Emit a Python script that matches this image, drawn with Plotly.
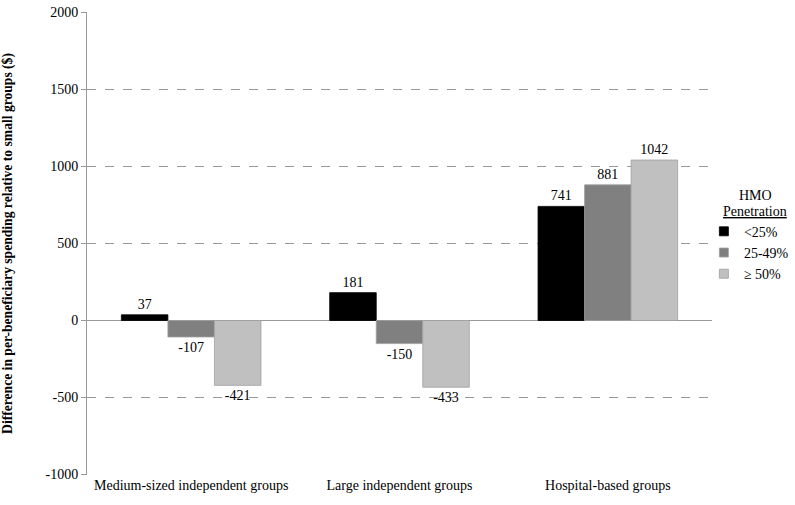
import plotly.graph_objects as go

categories = ["Medium-sized independent groups", "Large independent groups", "Hospital-based groups"]
series_names = ["<25%", "25-49%", "\u2265 50%"]
low = [37, 181, 741]
mid = [-107, -150, 881]
high = [-421, -433, 1042]
colors = ["#000000", "#808080", "#c0c0c0"]
y_ticks = [-1000, -500, 0, 500, 1000, 1500, 2000]
legend_title_lines = ["HMO", "<u>Penetration</u>"]

FONT = "Liberation Serif"

fig = go.Figure()
for name, vals, col in zip(series_names, [low, mid, high], colors):
    fig.add_trace(go.Bar(
        x=categories, y=vals, name=name, showlegend=False,
        marker=dict(color=col, line=dict(color="#a0a0a0" if col != "#000000" else "#000000", width=0.8)),
        text=[str(v) for v in vals], textposition="outside",
        textfont=dict(family=FONT, size=14, color="#000000"),
        cliponaxis=False,
    ))
# legend entries with small square swatches
for name, col in zip(series_names, colors):
    fig.add_trace(go.Scatter(
        x=[None], y=[None], mode="markers", name=name,
        marker=dict(symbol="square", size=9, color=col,
                    line=dict(color="#a0a0a0" if col != "#000000" else "#000000", width=0.8)),
    ))

annots = []
for i, line in enumerate(legend_title_lines):
    annots.append(dict(
        text=line, x=1.069, y=0.603 - i * 0.033, xref="paper", yref="paper",
        xanchor="center", yanchor="middle", showarrow=False,
        font=dict(family=FONT, size=14), align="center",
    ))

fig.update_layout(
    width=795, height=505,
    margin=dict(l=87, r=83, t=12, b=30, autoexpand=False),
    paper_bgcolor="white", plot_bgcolor="white",
    barmode="group", bargap=0.33, bargroupgap=0,
    font=dict(family=FONT, size=14, color="#000000"),
    showlegend=True,
    legend=dict(
        x=0.987, y=0.56, xanchor="left", yanchor="top",
        font=dict(family=FONT, size=14), itemwidth=30, tracegroupgap=0,
        bgcolor="rgba(0,0,0,0)",
    ),
    annotations=annots,
)
fig.update_xaxes(showline=False, ticks="", tickfont=dict(family=FONT, size=14), automargin=False)
fig.update_yaxes(
    range=[-1003, 2003], tickvals=y_ticks, ticktext=[str(v) for v in y_ticks],
    showgrid=True, gridcolor="#999999", griddash="dash", gridwidth=0.8,
    zeroline=True, zerolinecolor="#999999", zerolinewidth=1,
    showline=True, linecolor="#999999", linewidth=1,
    ticks="outside", ticklen=5, tickcolor="#999999",
    tickfont=dict(family=FONT, size=14), automargin=False,
    title=dict(text="<b>Difference in per-beneficiary spending relative to small groups ($)</b>",
               font=dict(family=FONT, size=13.6), standoff=30),
)
fig.write_html("out.html", config={"displayModeBar": False},
               post_script="document.body.style.margin='0';")
